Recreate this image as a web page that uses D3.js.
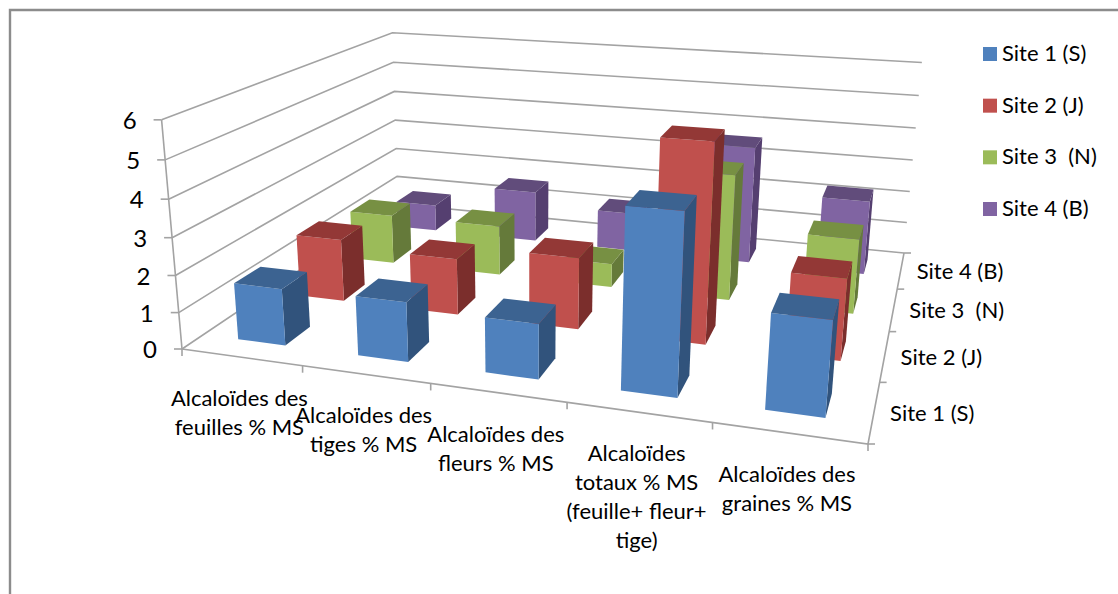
<!DOCTYPE html>
<html lang="fr">
<head>
<meta charset="utf-8">
<title>Alcaloïdes par site</title>
<script src="https://cdn.jsdelivr.net/npm/d3@7/dist/d3.min.js"></script>
<style>
  html, body { margin: 0; padding: 0; background: #fff; }
  svg { display: block; }
  text { font-family: Lato, "Open Sans", sans-serif; fill: #000; }
</style>
</head>
<body>
<svg id="chart" width="1118" height="594"></svg>
<script>
// Categories along the front axis, one entry per wrapped line
const categories = [
  ["Alcaloïdes des", "feuilles % MS"],
  ["Alcaloïdes des", "tiges % MS"],
  ["Alcaloïdes des", "fleurs % MS"],
  ["Alcaloïdes", "totaux % MS", "(feuille+ fleur+", "tige)"],
  ["Alcaloïdes des", "graines % MS"]
];
const sites = ["Site 1 (S)", "Site 2 (J)", "Site 3  (N)", "Site 4 (B)"];

// Alkaloid content (% dry matter) by site
const site1Values = [1.55, 1.6, 1.45, 4.6, 2.4];
const site2Values = [1.8, 1.6, 2.0, 5.4, 2.2];
const site3Values = [1.5, 1.5, 0.7, 3.65, 2.15];
const site4Values = [0.85, 1.6, 1.2, 3.6, 2.25];
const seriesValues = [site1Values, site2Values, site3Values, site4Values];

const zTicks = [0, 1, 2, 3, 4, 5, 6];

const faceColors = [
  { front: "#4f81bd", top: "#3c6391", side: "#31537c" },
  { front: "#c0504d", top: "#933836", side: "#7b2e2c" },
  { front: "#9bbb59", top: "#779043", side: "#657a3a" },
  { front: "#8064a2", top: "#614c7b", side: "#553f70" }
];

const gridColor = "#a3a3a3";

// Plot box corners on screen: the floor, then the tops of three vertical edges
const floorFrontLeft = [182, 349], floorFrontRight = [868, 444],
      floorBackRight = [904, 253], floorBackLeft = [398, 204];
const topFrontLeft = [162, 120], topBackLeft = [392, 33], topBackRight = [922, 62];

function solve(A, b) {
  const n = b.length, M = A.map((r, i) => [...r, b[i]]);
  for (let c = 0; c < n; c++) {
    let p = c;
    for (let r = c + 1; r < n; r++) if (Math.abs(M[r][c]) > Math.abs(M[p][c])) p = r;
    [M[c], M[p]] = [M[p], M[c]];
    for (let r = 0; r < n; r++) {
      if (r === c) continue;
      const f = M[r][c] / M[c][c];
      for (let k = c; k <= n; k++) M[r][k] -= f * M[c][k];
    }
  }
  return M.map((r, i) => r[n] / r[i]);
}

// Perspective camera: floor homography plus a least-squares vertical column
function buildCamera() {
  const floor = [
    [0, 0, floorFrontLeft], [1, 0, floorFrontRight],
    [1, 1, floorBackRight], [0, 1, floorBackLeft]
  ];
  const A = [], b = [];
  floor.forEach(([u, v, [x, y]]) => {
    A.push([u, v, 1, 0, 0, 0, -u * x, -v * x]); b.push(x);
    A.push([0, 0, 0, u, v, 1, -u * y, -v * y]); b.push(y);
  });
  const h = solve(A, b);
  const base = (u, v) => [h[0] * u + h[1] * v + h[2], h[3] * u + h[4] * v + h[5], h[6] * u + h[7] * v + 1];
  const tops = [[0, 0, topFrontLeft], [0, 1, topBackLeft], [1, 1, topBackRight]];
  const rows = [], rhs = [];
  tops.forEach(([u, v, [x, y]]) => {
    const [X, Y, W] = base(u, v);
    rows.push([1, 0, -x]); rhs.push(x * W - X);
    rows.push([0, 1, -y]); rhs.push(y * W - Y);
  });
  const AtA = [0, 1, 2].map(i => [0, 1, 2].map(j => d3.sum(rows, r => r[i] * r[j])));
  const Atb = [0, 1, 2].map(i => d3.sum(rows, (r, k) => r[i] * rhs[k]));
  const [a, c, e] = solve(AtA, Atb);
  return (u, v, z) => {
    const [X, Y, W] = base(u, v);
    const w = W + e * z;
    return [(X + a * z) / w, (Y + c * z) / w];
  };
}
const project = buildCamera();

// Scales map data onto the unit box that the camera projects
const categoryIndex = d3.range(categories.length);
const siteIndex = d3.range(sites.length);
const uBand = d3.scaleBand().domain(categoryIndex).range([0, 1]).paddingInner(0.6).paddingOuter(0.3);
const vBand = d3.scaleBand().domain(siteIndex).range([0, 1]).paddingInner(0.6).paddingOuter(0.3);
const uEdge = d3.scaleLinear().domain([0, categories.length]).range([0, 1]);
const vEdge = d3.scaleLinear().domain([0, sites.length]).range([0, 1]);
const zScale = d3.scaleLinear().domain([0, 6]).range([0, 1]);

const svg = d3.select("#chart");
const line = d3.line();
const polygon = pts => line(pts) + "Z";

// Chart frame, open on the right and at the bottom
svg.append("path")
  .attr("d", line([[10, 594], [10, 10], [1118, 10]]))
  .attr("fill", "none").attr("stroke", "#8c8c8c").attr("stroke-width", 2.4);

const axes = svg.append("g").attr("fill", "none").attr("stroke", gridColor).attr("stroke-width", 1.6);

// Wall gridlines
zTicks.forEach(t => {
  const z = zScale(t);
  axes.append("path").attr("d", line([project(0, 0, z), project(0, 1, z), project(1, 1, z)]));
  const p = project(0, 0, z);
  axes.append("path").attr("d", line([[p[0] - 8, p[1]], p]));
});
axes.append("path").attr("d", line([project(0, 0, 0), project(0, 0, 1)]));
axes.append("path").attr("d", line([project(0, 0, 0), project(1, 0, 0), project(1, 1, 0)]));

// Axis ticks on the floor edges
d3.range(categories.length + 1).forEach(i => {
  const p = project(uEdge(i), 0, 0);
  axes.append("path").attr("d", line([p, [p[0], p[1] + 7]]));
});
d3.range(sites.length + 1).forEach(i => {
  const p = project(1, vEdge(i), 0);
  axes.append("path").attr("d", line([p, [p[0] + 7, p[1]]]));
});

// Columns, painted from the back row forward and left to right
const bars = svg.append("g");
[...siteIndex].reverse().forEach(s => {
  categoryIndex.forEach(c => {
    const u0 = uBand(c), u1 = u0 + uBand.bandwidth();
    const v0 = vBand(s), v1 = v0 + vBand.bandwidth();
    const z = zScale(seriesValues[s][c]);
    const col = faceColors[s];
    bars.append("path").attr("fill", col.side)
      .attr("d", polygon([project(u1, v0, 0), project(u1, v1, 0), project(u1, v1, z), project(u1, v0, z)]));
    bars.append("path").attr("fill", col.front)
      .attr("d", polygon([project(u0, v0, 0), project(u1, v0, 0), project(u1, v0, z), project(u0, v0, z)]));
    bars.append("path").attr("fill", col.top)
      .attr("d", polygon([project(u0, v0, z), project(u1, v0, z), project(u1, v1, z), project(u0, v1, z)]));
  });
});

// Value axis labels
svg.append("g").selectAll("text").data(zTicks).join("text")
  .attr("x", d => project(0, 0, zScale(d))[0] - 25)
  .attr("y", d => project(0, 0, zScale(d))[1] + 3)
  .attr("text-anchor", "end").attr("dominant-baseline", "middle")
  .style("font-size", "24px")
  .text(d => d);

// Category labels under the front edge
categoryIndex.forEach(c => {
  const p = project(uEdge(c + 0.5), 0, 0);
  svg.append("text")
    .attr("text-anchor", "middle")
    .style("font-size", "22px")
    .selectAll("tspan").data(categories[c]).join("tspan")
    .attr("x", p[0] - 2)
    .attr("y", (d, i) => p[1] + 49 + i * 29)
    .text(d => d);
});

// Site labels beside the right edge
svg.append("g").selectAll("text").data(siteIndex).join("text")
  .attr("x", d => project(1, vEdge(d + 0.5), 0)[0] + 16)
  .attr("y", d => project(1, vEdge(d + 0.5), 0)[1] + 9)
  .style("font-size", "22px")
  .style("white-space", "pre")
  .text(d => sites[d]);

// Legend
const legendY = d3.scalePoint().domain(siteIndex).range([47, 202]);
const legend = svg.append("g").selectAll("g").data(siteIndex).join("g")
  .attr("transform", d => `translate(983,${legendY(d)})`);
legend.append("rect").attr("width", 14).attr("height", 14).attr("fill", d => faceColors[d].front);
legend.append("text").attr("x", 19).attr("y", 14)
  .style("font-size", "22px").style("white-space", "pre")
  .text(d => sites[d]);
</script>
</body>
</html>
